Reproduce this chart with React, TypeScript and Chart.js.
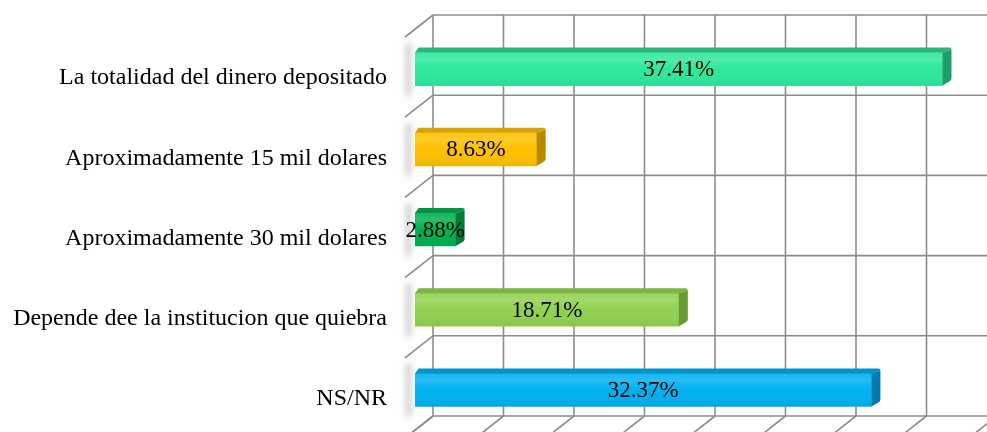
import React, { useEffect, useRef } from "react";
import { Chart, registerables } from "chart.js";

Chart.register(...registerables);

const categories = [
  "La totalidad del dinero depositado",
  "Aproximadamente 15 mil dolares",
  "Aproximadamente 30 mil dolares",
  "Depende dee la institucion que quiebra",
  "NS/NR",
];
const values = [37.41, 8.63, 2.88, 18.71, 32.37];
const valueLabels = ["37.41%", "8.63%", "2.88%", "18.71%", "32.37%"];
const axisMin = 0;
const axisMax = 40;
const axisStep = 5;

const frontColors = ["#2EE89A", "#FFC000", "#00B050", "#92D050", "#00B0F0"];
const topColors = ["#24B87D", "#D9A200", "#009442", "#7AB540", "#0094CC"];
const sideColors = ["#1E9E69", "#B88A00", "#007A36", "#669A33", "#007BAD"];

const WALL_DX = 18;
const WALL_DY = 14;
const FLOOR_DX = 28;
const FLOOR_DY = 22;
const BAR_DX = 9;
const BAR_DY = 5;

const gridPlugin = {
  id: "grid3d",
  beforeDatasetsDraw(chart: any) {
    const { ctx, chartArea, scales, width } = chart;
    const xs = scales.x;
    const n = categories.length;
    const catH = (chartArea.bottom - chartArea.top) / n;
    ctx.save();
    ctx.strokeStyle = "#8c8c8c";
    ctx.lineWidth = 1.6;
    const wallTop = chartArea.top - WALL_DY;
    const wallBottom = chartArea.bottom - WALL_DY;
    const wallLeft = xs.getPixelForValue(axisMin) + WALL_DX;
    for (let v = axisMin; v <= axisMax; v += axisStep) {
      const x = xs.getPixelForValue(v) + WALL_DX;
      ctx.beginPath();
      ctx.moveTo(x, wallTop);
      ctx.lineTo(x, wallBottom);
      ctx.stroke();
      ctx.beginPath();
      ctx.moveTo(x, wallBottom);
      ctx.lineTo(x - FLOOR_DX, wallBottom + FLOOR_DY);
      ctx.stroke();
    }
    for (let i = 0; i <= n; i++) {
      const y = chartArea.top + i * catH - WALL_DY;
      ctx.beginPath();
      ctx.moveTo(wallLeft, y);
      ctx.lineTo(width, y);
      ctx.stroke();
      ctx.beginPath();
      ctx.moveTo(wallLeft, y);
      ctx.lineTo(wallLeft - FLOOR_DX, y + FLOOR_DY);
      ctx.stroke();
    }
    const meta = chart.getDatasetMeta(0);
    meta.data.forEach((bar: any) => {
      const h = bar.height;
      ctx.save();
      ctx.filter = "blur(3px)";
      ctx.fillStyle = "rgba(0,0,0,0.22)";
      ctx.fillRect(bar.base - 9, bar.y - h / 2 - 10, 5, h + 20);
      ctx.restore();
    });
    ctx.restore();
  },
  afterDatasetsDraw(chart: any) {
    const { ctx } = chart;
    const meta = chart.getDatasetMeta(0);
    ctx.save();
    meta.data.forEach((bar: any, i: number) => {
      const x0 = bar.base;
      const x1 = bar.x;
      const yt = bar.y - bar.height / 2;
      const yb = bar.y + bar.height / 2;
      const g = ctx.createLinearGradient(0, yt, 0, yb);
      g.addColorStop(0, "rgba(255,255,255,0.08)");
      g.addColorStop(0.2, "rgba(255,255,255,0.16)");
      g.addColorStop(0.5, "rgba(255,255,255,0)");
      g.addColorStop(1, "rgba(0,0,0,0.06)");
      ctx.fillStyle = g;
      ctx.fillRect(x0, yt, x1 - x0, yb - yt);
      ctx.fillStyle = topColors[i];
      ctx.beginPath();
      ctx.moveTo(x0, yt);
      ctx.lineTo(x0 + BAR_DX * 0.4, yt - BAR_DY);
      ctx.lineTo(x1 + BAR_DX - 2, yt - BAR_DY);
      ctx.quadraticCurveTo(x1 + BAR_DX, yt - BAR_DY, x1 + BAR_DX, yt - BAR_DY + 2);
      ctx.lineTo(x1, yt);
      ctx.closePath();
      ctx.fill();
      ctx.fillStyle = sideColors[i];
      ctx.beginPath();
      ctx.moveTo(x1, yt);
      ctx.lineTo(x1 + BAR_DX, yt - BAR_DY + 2);
      ctx.lineTo(x1 + BAR_DX, yb - BAR_DY - 2);
      ctx.quadraticCurveTo(x1 + BAR_DX, yb - BAR_DY, x1 + BAR_DX - 2, yb - BAR_DY + 1);
      ctx.lineTo(x1, yb);
      ctx.closePath();
      ctx.fill();
      ctx.fillStyle = "#000";
      ctx.font = "23px 'Liberation Serif', 'Times New Roman', serif";
      ctx.textAlign = "center";
      ctx.textBaseline = "middle";
      ctx.fillText(valueLabels[i], (x0 + x1) / 2, bar.y + 1);
    });
    ctx.restore();
  },
};

export default function App() {
  const canvasRef = useRef<HTMLCanvasElement | null>(null);

  useEffect(() => {
    if (!canvasRef.current) return;
    const chart = new Chart(canvasRef.current, {
      type: "bar",
      data: {
        labels: categories,
        datasets: [
          {
            data: values,
            backgroundColor: frontColors,
            borderWidth: 0,
            barThickness: 33,
          },
        ],
      },
      options: {
        indexAxis: "y",
        animation: false,
        responsive: true,
        maintainAspectRatio: false,
        layout: { padding: { top: 29, bottom: 2, right: 8, left: 0 } },
        plugins: {
          legend: { display: false },
          tooltip: { enabled: false },
        },
        scales: {
          x: {
            display: false,
            min: axisMin,
            max: axisMax,
            ticks: { stepSize: axisStep },
          },
          y: {
            type: "category",
            position: "left",
            grid: { display: false, drawTicks: false },
            border: { display: false },
            afterFit: (s: any) => {
              s.width = 415;
              s.paddingTop = 0;
              s.paddingBottom = 0;
            },
            ticks: {
              color: "#000",
              padding: 28,
              labelOffset: 9,
              font: { family: "'Liberation Serif', 'Times New Roman', serif", size: 24 },
            },
          },
        },
      },
      plugins: [gridPlugin],
    });
    return () => chart.destroy();
  }, []);

  return (
    <div style={{ position: "absolute", left: 0, top: 0, width: 987, height: 432, background: "#fff" }}>
      <canvas ref={canvasRef} />
    </div>
  );
}
